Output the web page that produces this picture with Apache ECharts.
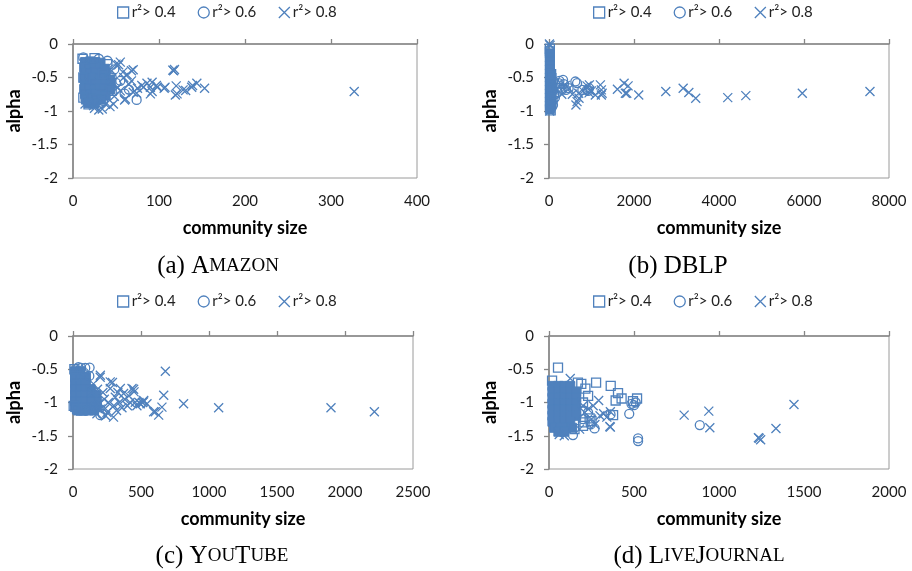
<!DOCTYPE html>
<html><head><meta charset="utf-8">
<script src="https://cdn.jsdelivr.net/npm/echarts@6/dist/echarts.min.js"></script>
<style>html,body{margin:0;padding:0;background:#fff}#c{width:912px;height:571px}</style>
</head><body><div id="c"></div>
<script>
// ---------- data (community size, alpha) ----------
const legendNames = ['r\u00b2> 0.4', 'r\u00b2> 0.6', 'r\u00b2> 0.8'];
const yTicks = [-2, -1.5, -1, -0.5, 0];

// (a) Amazon
const amazonXMax = 400, amazonXStep = 100;
const amazonDense = [[14,-0.27],[20,-0.26],[26,-0.27],[32,-0.28],
 [13,-0.35],[19,-0.36],[25,-0.35],[31,-0.34],[37,-0.37],
 [14,-0.43],[20,-0.44],[26,-0.42],[32,-0.44],[38,-0.45],
 [13,-0.51],[19,-0.52],[25,-0.50],[31,-0.51],[37,-0.52],[43,-0.53],
 [14,-0.59],[20,-0.58],[26,-0.60],[32,-0.59],[38,-0.58],[44,-0.60],
 [13,-0.67],[19,-0.66],[25,-0.68],[31,-0.67],[37,-0.66],[43,-0.68],
 [14,-0.75],[20,-0.76],[26,-0.74],[32,-0.75],[38,-0.77],
 [15,-0.83],[21,-0.82],[27,-0.84],[33,-0.83],[18,-0.88],[25,-0.89]];
const amazonR04 = [[11,-0.22],[25,-0.21],[12,-0.5],[12,-0.8],[40,-0.3],[45,-0.7],[18,-0.9],[35,-0.45]];
const amazonR06 = [[74,-0.835],[60,-0.74],[45,-0.5],[50,-0.58],[40,-0.25],[35,-0.85],[55,-0.55],[65,-0.68],[48,-0.38],[12,-0.2],[30,-0.22]];
const amazonR08 = [[327,-0.71],[117,-0.40],[118,-0.38],[116,-0.39],[153,-0.66],[144,-0.585],[138,-0.645],[139,-0.62],
 [128,-0.685],[119,-0.76],[120,-0.625],[106,-0.66],[98,-0.645],[92,-0.71],[86,-0.585],[92,-0.57],[82,-0.645],
 [70,-0.385],[63,-0.46],[53,-0.31],[55,-0.27],[68,-0.40],[59,-0.5],[68,-0.55],[80,-0.62],[90,-0.645],[97,-0.62],
 [107,-0.645],[131,-0.695],[121,-0.745],[90,-0.745],[61,-0.82],[47,-0.895],[34,-0.97],[24,-0.92],[14,-0.895],
 [43,-0.935],[30,-0.985],[25,-0.96],[18,-0.886],[60,-0.835],[74,-0.735],[50,-0.3],[48,-0.78],[55,-0.7],[65,-0.6],
 [75,-0.66],[45,-0.4],[58,-0.42],[52,-0.65],[70,-0.72],[38,-0.9]];

// (b) DBLP
const dblpXMax = 8000, dblpXStep = 2000;
const dblpDense = [[20,-0.14],[20,-0.20],[20,-0.26],[20,-0.32],[20,-0.38],[20,-0.44],[20,-0.50],[20,-0.56],
 [20,-0.62],[20,-0.68],[20,-0.74],[20,-0.80],[20,-0.86],[20,-0.92],[20,-0.97],
 [60,-0.5],[60,-0.6],[60,-0.7],[60,-0.8],[60,-0.9]];
const dblpR04 = [[20,-0.07],[20,-0.11],[50,-0.45],[70,-0.65],[40,-0.99]];
const dblpR06 = [[227,-0.585],[330,-0.535],[245,-0.55],[400,-0.685],[300,-0.685],[462,-0.66],[620,-0.56],[660,-0.585],
 [785,-0.685],[895,-0.685],[940,-0.66],[920,-0.70],[94,-0.91],[150,-0.6],[120,-0.75],[200,-0.72],[180,-0.65],
 [100,-0.55],[90,-0.85],[140,-0.8],[350,-0.6],[250,-0.65],[60,-0.95],[110,-0.68]];
const dblpR08 = [[7552,-0.71],[5960,-0.735],[4631,-0.77],[4206,-0.80],[3452,-0.81],[3290,-0.725],[3157,-0.66],
 [2748,-0.71],[2111,-0.76],[1861,-0.625],[1767,-0.585],[1797,-0.735],[1610,-0.675],[1232,-0.685],[1232,-0.76],
 [1209,-0.61],[956,-0.695],[895,-0.625],[942,-0.73],[634,-0.91],[706,-0.81],[470,-0.665],[550,-0.75],[950,-0.61],
 [1250,-0.735],[698,-0.735],[660,-0.86],[1090,-0.76],[1000,-0.70],[10,0],[25,-0.02],[15,-1.0],[300,-0.75],
 [800,-0.7],[380,-0.62],[1830,-0.735]];

// (c) YouTube
const youtubeXMax = 2500, youtubeXStep = 500;
const youtubeDense = [[15,-0.53],[55,-0.53],
 [15,-0.62],[55,-0.62],[95,-0.62],
 [15,-0.71],[55,-0.71],[95,-0.71],
 [15,-0.80],[55,-0.80],[95,-0.80],[130,-0.80],
 [15,-0.89],[55,-0.89],[95,-0.89],[135,-0.89],[170,-0.89],
 [15,-0.98],[55,-0.98],[95,-0.98],[135,-0.98],[175,-0.98],
 [15,-1.07],[55,-1.07],[95,-1.07],[135,-1.07],[175,-1.07],
 [35,-1.12],[75,-1.12],[115,-1.12],[155,-1.12]];
const youtubeR04 = [[10,-0.5],[20,-0.6],[30,-1.1],[60,-1.12],[5,-1.05]];
const youtubeR06 = [[122,-0.475],[201,-1.19],[60,-0.48],[90,-0.48],[140,-1.1],[215,-1.17],[100,-1.12],[80,-0.55],
 [40,-0.47],[160,-1.05],[120,-0.6]];
const youtubeR08 = [[200,-0.62],[274,-0.69],[348,-0.79],[434,-0.79],[449,-0.84],[519,-0.99],[485,-1.0],[667,-0.89],
 [679,-0.53],[654,-1.07],[813,-1.02],[605,-1.14],[630,-1.19],[593,-1.14],[1071,-1.08],[1897,-1.08],[2216,-1.14],
 [372,-0.865],[311,-0.92],[274,-0.79],[176,-1.17],[298,-1.22],[237,-1.09],[458,-0.995],[495,-1.02],[544,-1.02],
 [520,-0.97],[410,-0.9],[380,-0.95],[340,-1.0],[300,-1.05],[260,-1.0],[230,-0.95],[220,-0.85],[180,-0.8],
 [150,-0.72],[330,-0.85],[400,-1.05],[250,-1.15],[200,-1.1],[290,-0.7],[446,-0.80],[201,-0.59],[320,-1.12],
 [360,-1.08],[420,-1.0],[470,-1.05],[510,-1.0],[160,-0.95],[190,-1.02],[140,-0.85],[240,-1.2]];

// (d) LiveJournal
const liveXMax = 2000, liveXStep = 500;
const liveDense = [[20,-0.75],[55,-0.75],[90,-0.75],[125,-0.75],
 [20,-0.84],[55,-0.84],[90,-0.84],[125,-0.84],[160,-0.84],
 [20,-0.93],[55,-0.93],[90,-0.93],[125,-0.93],[160,-0.93],
 [20,-1.02],[55,-1.02],[90,-1.02],[125,-1.02],[160,-1.02],
 [20,-1.11],[55,-1.11],[90,-1.11],[125,-1.11],[160,-1.11],
 [20,-1.20],[55,-1.20],[90,-1.20],[125,-1.20],[160,-1.20],
 [20,-1.29],[55,-1.29],[90,-1.29],[125,-1.29],
 [30,-1.38],[65,-1.38],[100,-1.38],[135,-1.38],[55,-1.44],[90,-1.44]];
const liveR04 = [[53,-0.475],[18,-0.67],[277,-0.70],[363,-0.75],[406,-0.86],[427,-0.94],[392,-0.97],[518,-0.94],
 [494,-0.98],[214,-0.79],[377,-1.19],[239,-1.24],[209,-1.3],[190,-0.72],[170,-0.7],[250,-1.28],[200,-1.35],
 [150,-1.4],[230,-0.9],[200,-1.0]];
const liveR06 = [[524,-1.54],[524,-1.58],[472,-1.17],[887,-1.34],[485,-1.02],[500,-1.04],[510,-1.0],[268,-1.39],
 [141,-1.49],[362,-1.18],[245,-1.33],[200,-1.25],[230,-1.15]];
const liveR08 = [[1441,-1.03],[1335,-1.39],[1237,-1.54],[1245,-1.56],[1232,-1.53],[940,-1.13],[946,-1.38],[795,-1.19],
 [361,-1.14],[361,-1.37],[358,-1.36],[321,-1.17],[292,-0.97],[300,-1.2],[250,-1.25],[270,-1.33],[230,-1.1],
 [125,-0.64],[200,-1.05],[90,-1.5],[60,-1.48],[340,-1.22],[260,-1.05],[180,-1.4],[210,-1.15]];

// ---------- chart ----------
const BLUE = '#4F81BD';
const AXIS = '#868686';
const FONT = 'Lato';
const XPATH = 'path://M0,0L10,10M10,0L0,10';
const panels = [
  {xMax: amazonXMax, xStep: amazonXStep, dense: amazonDense, s: [amazonR04, amazonR06, amazonR08],
   grid: {left: 73, top: 44, width: 344, height: 134}, legend: {left: 112, top: 0},
   cap: {x: 213, y: 249, text: '(a) {c|A}{s|MAZON}'}},
  {xMax: dblpXMax, xStep: dblpXStep, dense: dblpDense, s: [dblpR04, dblpR06, dblpR08],
   grid: {left: 549, top: 44, width: 340, height: 134}, legend: {left: 588, top: 0},
   cap: {x: 673, y: 249, text: '(b) {c|DBLP}'}},
  {xMax: youtubeXMax, xStep: youtubeXStep, dense: youtubeDense, s: [youtubeR04, youtubeR06, youtubeR08],
   grid: {left: 73, top: 336, width: 340, height: 133}, legend: {left: 112, top: 289},
   cap: {x: 217, y: 539, text: '(c) {c|Y}{s|OU}{c|T}{s|UBE}'}},
  {xMax: liveXMax, xStep: liveXStep, dense: liveDense, s: [liveR04, liveR06, liveR08],
   grid: {left: 549, top: 336, width: 340, height: 133}, legend: {left: 588, top: 289},
   cap: {x: 694, y: 539, text: '(d) {c|L}{s|IVE}{c|J}{s|OURNAL}'}}
];

const hollow = {color: 'rgba(0,0,0,0)', borderColor: BLUE, borderWidth: 1.3, opacity: 1};
const grids = [], xAxes = [], yAxes = [], series = [], legends = [], titles = [];
panels.forEach((p, i) => {
  grids.push(Object.assign({show: true, borderColor: '#9a9a9a', borderWidth: 1, backgroundColor: 'transparent'}, p.grid));
  xAxes.push({gridIndex: i, type: 'value', min: 0, max: p.xMax, interval: p.xStep, position: 'bottom',
    axisLine: {show: false}, axisTick: {show: false}, splitLine: {show: false},
    axisLabel: {fontFamily: FONT, fontSize: 15, color: '#1a1a1a', margin: 16, formatter: v => String(v)},
    name: 'community size', nameLocation: 'middle', nameGap: 41,
    nameTextStyle: {fontFamily: FONT, fontWeight: 'bold', fontSize: 18, color: '#000'}});
  xAxes.push({gridIndex: i, type: 'value', min: 0, max: p.xMax, interval: p.xStep, position: 'top',
    axisLine: {show: true, lineStyle: {color: AXIS, width: 1.6}},
    axisTick: {show: true, length: 5, lineStyle: {color: AXIS, width: 1.3}},
    axisLabel: {show: false}, splitLine: {show: false}});
  yAxes.push({gridIndex: i, type: 'value', min: yTicks[0], max: yTicks[yTicks.length - 1], interval: 0.5,
    axisLine: {show: true, lineStyle: {color: AXIS, width: 1.6}},
    axisTick: {show: true, length: 5, lineStyle: {color: AXIS, width: 1.3}},
    splitLine: {show: false},
    axisLabel: {fontFamily: FONT, fontSize: 15, color: '#1a1a1a', margin: 15, formatter: v => String(v)},
    name: 'alpha', nameLocation: 'middle', nameGap: 50, nameRotate: 90,
    nameTextStyle: {fontFamily: FONT, fontWeight: 'bold', fontSize: 18, color: '#000'}});
  series.push({type: 'scatter', name: 'dense' + i, xAxisIndex: 2 * i, yAxisIndex: i, data: p.dense,
    symbol: 'rect', symbolSize: 9, itemStyle: {color: BLUE, borderColor: BLUE, borderWidth: 1, opacity: 1}, silent: true});
  const syms = ['rect', 'circle', XPATH];
  const sizes = [9, 9, 9];
  p.s.forEach((d, k) => {
    series.push({type: 'scatter', name: legendNames[k], xAxisIndex: 2 * i, yAxisIndex: i, data: d,
      symbol: syms[k], symbolSize: sizes[k], itemStyle: hollow, silent: true});
  });
  legends.push({left: p.legend.left, top: p.legend.top, orient: 'horizontal', itemGap: 22, itemWidth: 11, itemHeight: 11,
    selectedMode: false, textStyle: {fontFamily: FONT, fontSize: 15, color: '#222', padding: [0, 0, 0, -2]},
    itemStyle: {color: 'rgba(0,0,0,0)', borderColor: BLUE, borderWidth: 1.3, opacity: 1},
    data: [{name: legendNames[0], icon: 'rect'}, {name: legendNames[1], icon: 'circle'}, {name: legendNames[2], icon: XPATH}]});
  titles.push({text: p.cap.text, left: p.cap.x, top: p.cap.y, textAlign: 'center',
    textStyle: {fontFamily: 'Liberation Serif', fontWeight: 'normal', fontSize: 25, color: '#000',
      rich: {c: {fontFamily: 'Liberation Serif', fontSize: 25, color: '#000'},
             s: {fontFamily: 'Liberation Serif', fontSize: 19, color: '#000'}}}});
});

const chart = echarts.init(document.getElementById('c'), null, {renderer: 'canvas'});
chart.setOption({animation: false, backgroundColor: '#fff', title: titles, legend: legends,
  grid: grids, xAxis: xAxes, yAxis: yAxes, series: series});
</script></body></html>
